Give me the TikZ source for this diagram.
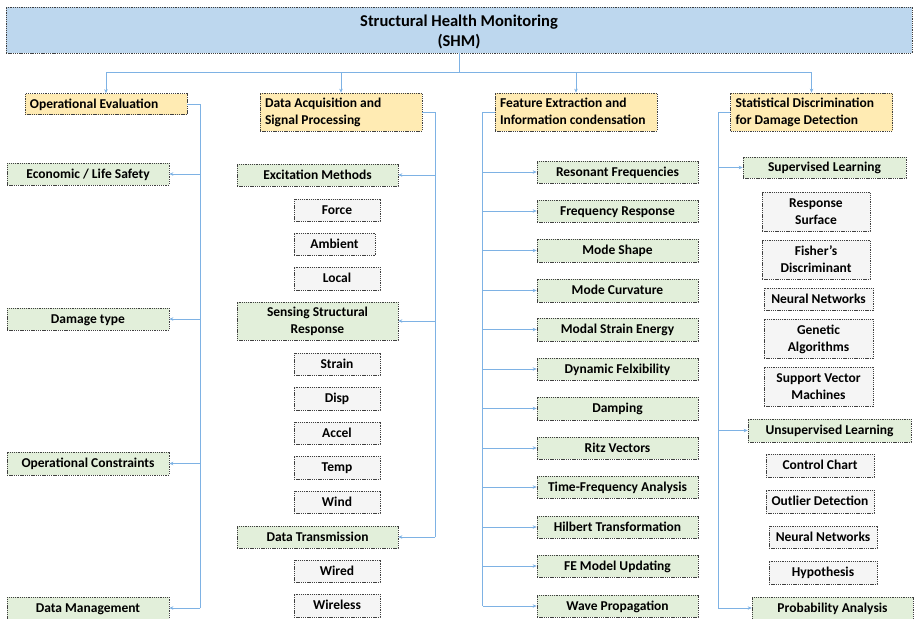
\documentclass[tikz,border=0pt]{standalone}
\usepackage{fontspec}
\setmainfont{Carlito}
\usetikzlibrary{arrows.meta}
\definecolor{titlefill}{HTML}{BDD7EE}
\definecolor{headfill}{HTML}{FFEBB3}
\definecolor{greenfill}{HTML}{E2EFDA}
\definecolor{subfill}{HTML}{F5F5F5}
\definecolor{linkc}{HTML}{7EB2E4}
\definecolor{bordc}{HTML}{404040}
\tikzset{
  basebox/.style={draw=bordc, dash pattern=on 1.3pt off 0.9pt, line width=0.7pt,
    inner sep=0pt, align=center, font=\bfseries\fontsize{13.5}{17}\selectfont},
  titlebox/.style={basebox, fill=titlefill, font=\bfseries\fontsize{16.5}{20}\selectfont},
  headbox/.style={basebox, fill=headfill, align=flush left, inner xsep=5pt, text width=152pt},
  gbox/.style={basebox, fill=greenfill},
  sbox/.style={basebox, fill=subfill},
  link/.style={draw=linkc, line width=0.8pt},
  conn/.style={link, -{Stealth[length=4pt,width=3.5pt]}},
}
% struts so that capitals sit centred in every box
\newcommand{\tstrut}{\rule{0pt}{12.3pt}}
\newcommand{\bstrut}{\rule[-3.6pt]{0pt}{3.6pt}}
\newcommand{\bx}[6]{\node[#1, minimum width=#4pt, minimum height=#5pt] (#2) at (#3) {\tstrut#6\bstrut};}
\begin{document}
\begin{tikzpicture}[x=1pt,y=-1pt]
\useasboundingbox (0,0) rectangle (914,619);
% title
\node[titlebox, minimum width=906pt, minimum height=46pt] (shm) at (459,30)
  {\rule{0pt}{16pt}Structural Health Monitoring\\(SHM)\rule[-3.4pt]{0pt}{3.4pt}};
% headers
\node[headbox, minimum height=21pt] (h1) at (106,104) {\tstrut Operational Evaluation\bstrut};
\node[headbox, minimum height=38pt] (h2) at (341,112) {\tstrut Data Acquisition and\\Signal Processing\bstrut};
\node[headbox, minimum height=38pt] (h3) at (576,112) {\tstrut Feature Extraction and\\Information condensation\bstrut};
\node[headbox, minimum height=38pt] (h4) at (811.5,112) {\tstrut Statistical Discrimination\\for Damage Detection\bstrut};
% column 1
\bx{gbox}{econ}{88,174}{162}{22}{Economic / Life Safety}
\bx{gbox}{dmg}{88,319}{162}{22}{Damage type}
\bx{gbox}{opc}{88,463.5}{162}{23}{Operational Constraints}
\bx{gbox}{dm}{88,608}{162}{22}{Data Management}
% column 2
\bx{gbox}{exc}{317.5,175}{161}{22}{Excitation Methods}
\bx{sbox}{force}{337,210}{86}{22}{Force}
\bx{sbox}{amb}{334.5,244}{81}{22}{Ambient}
\bx{sbox}{loc}{337,278.5}{86}{23}{Local}
\bx{gbox}{sens}{317.5,321}{161}{38}{Sensing Structural\\Response}
\bx{sbox}{strain}{337,364}{86}{22}{Strain}
\bx{sbox}{disp}{337,398.5}{86}{23}{Disp}
\bx{sbox}{accel}{337,433}{86}{22}{Accel}
\bx{sbox}{temp}{337,467.5}{86}{23}{Temp}
\bx{sbox}{wind}{337,502}{86}{22}{Wind}
\bx{gbox}{dt}{317.5,537}{161}{22}{Data Transmission}
\bx{sbox}{wired}{337,571}{86}{22}{Wired}
\bx{sbox}{wless}{337,605.5}{86}{23}{Wireless}
% column 3
\bx{gbox}{f1}{617.5,172}{161}{22}{Resonant Frequencies}
\bx{gbox}{f2}{617.5,211}{161}{22}{Frequency Response}
\bx{gbox}{f3}{617.5,250.5}{161}{23}{Mode Shape}
\bx{gbox}{f4}{617.5,290.5}{161}{23}{Mode Curvature}
\bx{gbox}{f5}{617.5,329.5}{161}{23}{Modal Strain Energy}
\bx{gbox}{f6}{617.5,369}{161}{22}{Dynamic Felxibility}
\bx{gbox}{f7}{617.5,408.5}{161}{23}{Damping}
\bx{gbox}{f8}{617.5,448}{161}{22}{Ritz Vectors}
\bx{gbox}{f9}{617.5,487}{161}{22}{Time-Frequency Analysis}
\bx{gbox}{f10}{617.5,527}{161}{22}{Hilbert Transformation}
\bx{gbox}{f11}{617.5,566}{161}{22}{FE Model Updating}
\bx{gbox}{f12}{617.5,606}{161}{22}{Wave Propagation}
% column 4
\bx{gbox}{sup}{824.5,167.5}{163}{21}{Supervised Learning}
\bx{sbox}{resp}{816,211.5}{108}{39}{Response\\Surface}
\bx{sbox}{fish}{816,259.5}{108}{39}{Fisher’s\\Discriminant}
\bx{sbox}{nn1}{818.5,299}{109}{22}{Neural Networks}
\bx{sbox}{gen}{818.5,338.5}{109}{39}{Genetic\\Algorithms}
\bx{sbox}{svm}{818.5,386.5}{109}{39}{Support Vector\\Machines}
\bx{gbox}{unsup}{829.5,430.5}{163}{23}{Unsupervised Learning}
\bx{sbox}{cc}{820,465.5}{108}{23}{Control Chart}
\bx{sbox}{od}{820,501.5}{108}{23}{Outlier Detection}
\bx{sbox}{nn2}{823,537}{108}{22}{Neural Networks}
\bx{sbox}{hyp}{823,572.5}{108}{23}{Hypothesis}
\bx{gbox}{prob}{832.5,608}{161}{22}{Probability Analysis}
% title to headers
\coordinate (tj) at (shm.south |- 0,72.5);
\draw[link] (shm.south) -- (tj);
\draw[link] (h1.north |- tj) -- (h4.north |- tj);
\foreach \h in {h1,h2,h3,h4} \draw[conn] (\h.north |- tj) -- (\h.north);
% column 1 links
\coordinate (c1) at ([xshift=13pt]h1.east);
\draw[link] (h1.east) -- (c1) -- (c1 |- dm);
\foreach \n in {econ,dmg,opc,dm} \draw[conn] (c1 |- \n) -- (\n.east);
% column 2 links
\coordinate (c2) at ([xshift=13pt]h2.east);
\draw[link] (h2.east) -- (c2) -- (c2 |- dt);
\foreach \n in {exc,sens,dt} \draw[conn] (c2 |- \n) -- (\n.east);
% column 3 links
\coordinate (c3) at ([xshift=-12pt]h3.west);
\draw[link] (h3.west) -- (c3) -- (c3 |- f12);
\foreach \n in {f1,f2,f3,f4,f5,f6,f7,f8,f9,f10,f11,f12} \draw[conn] (c3 |- \n) -- (\n.west);
% column 4 links
\coordinate (c4) at ([xshift=-12pt]h4.west);
\draw[link] (h4.west) -- (c4) -- (c4 |- prob);
\foreach \n in {sup,unsup,prob} \draw[conn] (c4 |- \n) -- (\n.west);
\end{tikzpicture}
\end{document}
